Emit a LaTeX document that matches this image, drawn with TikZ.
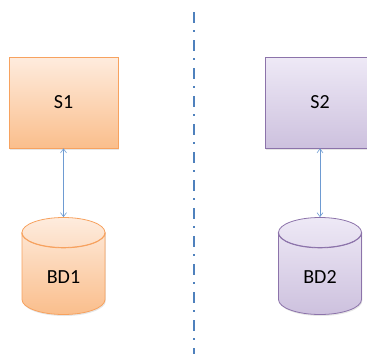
\documentclass[tikz,border=0pt]{standalone}
\usepackage{fontspec}
\setmainfont{Carlito}
\usetikzlibrary{arrows.meta,shapes.geometric,shadows,calc}

\definecolor{orgline}{RGB}{247,162,95}
\definecolor{orgtop}{RGB}{254,236,222}
\definecolor{orgbot}{RGB}{250,190,140}
\definecolor{purline}{RGB}{140,115,170}
\definecolor{purtop}{RGB}{238,233,246}
\definecolor{purbot}{RGB}{205,193,222}
\definecolor{linkblue}{RGB}{110,155,210}
\definecolor{sepblue}{RGB}{79,129,189}

\tikzset{
  server/.style={rectangle,minimum width=109pt,minimum height=91pt,
    line width=0.8pt,font=\fontsize{20}{24}\selectfont,
    drop shadow={opacity=0.2,shadow xshift=0.8pt,shadow yshift=-1.5pt}},
  base/.style={cylinder,shape border rotate=90,aspect=0.75,anchor=shape center,
    minimum width=83pt,minimum height=97pt,line width=0.8pt,
    font=\fontsize{20}{24}\selectfont,
    drop shadow={opacity=0.2,shadow xshift=0.8pt,shadow yshift=-1.5pt}},
  orange/.style={draw=orgline,top color=orgtop,bottom color=orgbot},
  purple/.style={draw=purline,top color=purtop,bottom color=purbot},
  rim/.style={line width=0.8pt},
  link/.style={draw=linkblue,line width=0.6pt,
    {Straight Barb[length=4pt,width=6pt]}-{Straight Barb[length=4pt,width=6pt]}}
}

\begin{document}
\begin{tikzpicture}[x=1pt,y=-1pt]
\useasboundingbox (0,0) rectangle (367,354);

\node [server,orange] (s1) at (63.5,102.5) {S1};
\node [server,purple] (s2) at (320,102.5) {S2};

\node [base,orange] (bd1) at (63.5,266) {BD1};
\node [base,purple] (bd2) at (320,266) {BD2};

% front rim of the lids
\draw [rim,orgline] let \p1=(bd1.before top), \p2=(bd1.after top), \p3=(bd1.top) in
  ({min(\x1,\x2)},\y1) arc[start angle=180,end angle=360,x radius={abs(\x2-\x1)/2},y radius={\y3-\y1}];
\draw [rim,purline] let \p1=(bd2.before top), \p2=(bd2.after top), \p3=(bd2.top) in
  ({min(\x1,\x2)},\y1) arc[start angle=180,end angle=360,x radius={abs(\x2-\x1)/2},y radius={\y3-\y1}];

\draw [link] (s1.south) -- (bd1.top);
\draw [link] (s2.south) -- (bd2.top);

\draw [sepblue,line width=2pt,dash pattern=on 11pt off 7pt on 2pt off 8pt] (194,12) -- (194,354);

\end{tikzpicture}
\end{document}
